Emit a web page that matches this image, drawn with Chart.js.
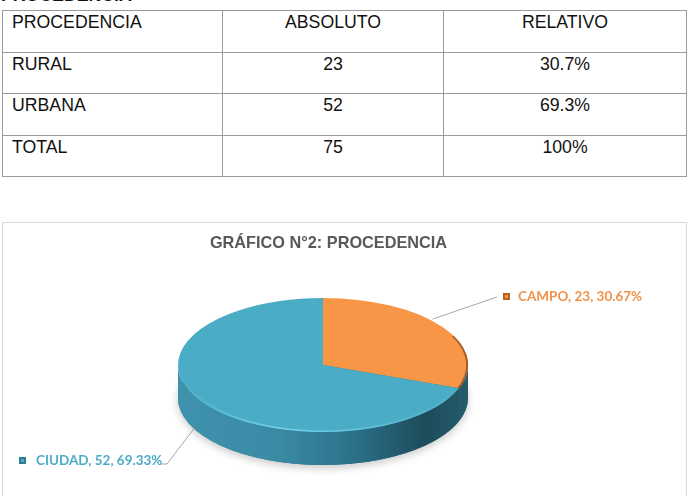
<!DOCTYPE html>
<html><head><meta charset="utf-8">
<script src="https://cdn.jsdelivr.net/npm/chart.js@4.4.1/dist/chart.umd.min.js"></script>
<style>
html,body{margin:0;padding:0;background:#fff;width:689px;height:496px;overflow:hidden;position:relative;font-family:"Liberation Sans",Arial,sans-serif;}
#head{position:absolute;left:1px;top:-13px;font-weight:bold;font-size:17.7px;color:#111;line-height:17px;}
table{position:absolute;left:2px;top:10px;border-collapse:collapse;width:684px;table-layout:fixed;font-size:17.7px;color:#111;}
tr{height:41.5px;}
td{border:1px solid #9a9a9a;padding:1px 9px 0;vertical-align:top;line-height:20px;}
td.c{text-align:center;}
#box{position:absolute;left:2px;top:222px;width:683px;height:300px;border:1px solid #d9d9d9;}
#box canvas{position:absolute;left:0;top:0;}
</style></head>
<body>
<div id="head">PROCEDENCIA</div>
<table id="tbl"><colgroup><col style="width:220px"><col style="width:221px"><col style="width:243px"></colgroup><tbody></tbody></table>
<div id="box"><canvas id="cv" width="683" height="273"></canvas></div>
<script>
// ---- table data ----
const tableHeader = ['PROCEDENCIA', 'ABSOLUTO', 'RELATIVO'];
const tableRows = ['RURAL', 'URBANA', 'TOTAL'];
const tableAbs = [23, 52, 75];
const tableRel = ['30.7%', '69.3%', '100%'];

// ---- chart data ----
const chartTitle = 'GRÁFICO N°2: PROCEDENCIA';
const categories = ['CAMPO', 'CIUDAD'];
const counts = [23, 52];
const percents = ['30.67%', '69.33%'];

// build table
const tb = document.querySelector('#tbl tbody');
function addRow(cells) {
  const tr = document.createElement('tr');
  cells.forEach((t, i) => {
    const td = document.createElement('td');
    td.textContent = t;
    if (i > 0) td.className = 'c';
    tr.appendChild(td);
  });
  tb.appendChild(tr);
}
addRow(tableHeader);
tableRows.forEach((r, i) => addRow([r, String(tableAbs[i]), tableRel[i]]));

// ---- 3D pie rendering ----
const OX = 3, OY = 223; // canvas origin on page
const GEOM = { cx: 323 - OX, cy: 365 - OY, rx: 145, ry: 67, depth: 33 };
const topColors = ['#F79646', '#4BACC6'];
const sideStops = [
  [[0, '#1f4f5e'], [1, '#245a6a']],
  [[0, '#3f93ad'], [0.35, '#3a8aa4'], [0.6, '#2c718a'], [0.85, '#1d4c5b'], [1, '#245a6a']]
];
const labelColors = ['#F0924A', '#4BACC6'];
const markerColors = ['#b5601f', '#2f7c93'];

function geom(chart) {
  const a = chart.getDatasetMeta(0).data[0];
  return { x: a.x, y: a.y, r: a.outerRadius };
}
function applyTf(ctx, g) {
  ctx.translate(GEOM.cx, GEOM.cy);
  ctx.scale(GEOM.rx / g.r, GEOM.ry / g.r);
  ctx.translate(-g.x, -g.y);
}

const pie3d = {
  id: 'pie3d',
  beforeDatasetsDraw(chart) {
    const ctx = chart.ctx, meta = chart.getDatasetMeta(0), g = geom(chart);
    const d = GEOM.depth * g.r / GEOM.ry;
    ctx.save();
    applyTf(ctx, g);
    // soft shadow beneath
    ctx.save();
    ctx.shadowColor = 'rgba(0,0,0,0.22)';
    ctx.shadowBlur = 9;
    ctx.shadowOffsetY = 3;
    ctx.beginPath();
    ctx.arc(g.x, g.y + d, g.r, 0, Math.PI * 2);
    ctx.fillStyle = '#2c718a';
    ctx.fill();
    ctx.restore();
    // side walls per slice
    meta.data.forEach((arc, i) => {
      const s = arc.startAngle, e = arc.endAngle;
      [[0, Math.PI], [2 * Math.PI, 3 * Math.PI]].forEach(([lo, hi]) => {
        const ss = Math.max(s, lo), ee = Math.min(e, hi);
        if (ee <= ss) return;
        ctx.beginPath();
        ctx.arc(g.x, g.y, g.r, ss, ee);
        ctx.arc(g.x, g.y + d, g.r, ee, ss, true);
        ctx.closePath();
        const gr = ctx.createLinearGradient(g.x - g.r, 0, g.x + g.r, 0);
        sideStops[i].forEach(([o, c]) => gr.addColorStop(o, c));
        ctx.fillStyle = gr;
        ctx.fill();
      });
    });
    // transform stays active while Chart.js draws the top face
  },
  afterDatasetsDraw(chart) {
    const ctx = chart.ctx, g = geom(chart);
    // thin darker rim on the right part of the orange slice
    const meta = chart.getDatasetMeta(0);
    const a0 = meta.data[0];
    ctx.beginPath();
    ctx.arc(g.x, g.y, g.r - 0.8 * g.r / GEOM.rx, Math.max(a0.startAngle, -0.45), a0.endAngle);
    ctx.strokeStyle = 'rgba(150,80,25,0.8)';
    ctx.lineWidth = 2 * g.r / GEOM.rx;
    ctx.stroke();
    // bevel highlight on front rim
    const lw = 1.6 * g.r / GEOM.ry;
    const gr = ctx.createLinearGradient(g.x - g.r, 0, g.x + g.r, 0);
    gr.addColorStop(0, 'rgba(120,210,235,0.0)');
    gr.addColorStop(0.35, 'rgba(120,215,240,0.9)');
    gr.addColorStop(0.7, 'rgba(110,200,225,0.6)');
    gr.addColorStop(1, 'rgba(110,200,225,0.0)');
    ctx.beginPath();
    ctx.arc(g.x, g.y, g.r - lw / 2, 0.45, Math.PI - 0.1);
    ctx.strokeStyle = gr;
    ctx.lineWidth = lw;
    ctx.stroke();
    ctx.restore();
  }
};

// data labels with leader lines
const labelLayout = [
  { fx: 0.92, fy: 1.2, drop: 0, pts: [[497, 297]], mark: [503, 293], tx: 518, ty: 297 },
  { fx: 1.08, fy: 0.96, drop: 0.8, pts: [[167, 464], [160, 464]], mark: [19, 457], tx: 36, ty: 460.5 }
];
const dataLabels = {
  id: 'dataLabels',
  afterDraw(chart) {
    const ctx = chart.ctx, meta = chart.getDatasetMeta(0);
    ctx.save();
    meta.data.forEach((arc, i) => {
      const L = labelLayout[i];
      const m = (arc.startAngle + arc.endAngle) / 2;
      const sx = GEOM.cx + GEOM.rx * L.fx * Math.cos(m);
      const sy = GEOM.cy + GEOM.ry * L.fy * Math.sin(m) + GEOM.depth * L.drop;
      ctx.beginPath();
      ctx.moveTo(sx, sy);
      L.pts.forEach(([px, py]) => ctx.lineTo(px - OX, py - OY));
      ctx.strokeStyle = '#a6a6a6';
      ctx.lineWidth = 1;
      ctx.stroke();
      // marker
      ctx.fillStyle = markerColors[i];
      ctx.fillRect(L.mark[0] - OX, L.mark[1] - OY, 7, 7);
      ctx.fillStyle = topColors[i];
      ctx.fillRect(L.mark[0] - OX + 2, L.mark[1] - OY + 2, 3, 3);
      // text
      ctx.font = 'bold 13.5px Lato, "Open Sans", sans-serif';
      ctx.fillStyle = labelColors[i];
      ctx.textBaseline = 'middle';
      ctx.textAlign = 'left';
      ctx.fillText(categories[i] + ', ' + counts[i] + ', ' + percents[i], L.tx - OX, L.ty - OY);
    });
    ctx.restore();
  }
};

new Chart(document.getElementById('cv'), {
  type: 'pie',
  data: {
    labels: categories,
    datasets: [{ data: counts, backgroundColor: topColors, borderWidth: 0, clip: false }]
  },
  options: {
    responsive: false,
    animation: false,
    events: [],
    layout: { padding: { top: 3, bottom: 10, left: 135, right: 167 } },
    plugins: {
      legend: { display: false },
      tooltip: { enabled: false },
      title: {
        display: true, text: chartTitle, color: '#595959',
        font: { family: '"Liberation Sans", Arial, sans-serif', size: 16.3, weight: 'bold' },
        padding: { top: 8, bottom: 10 }
      }
    }
  },
  plugins: [pie3d, dataLabels]
});
</script>
</body></html>
